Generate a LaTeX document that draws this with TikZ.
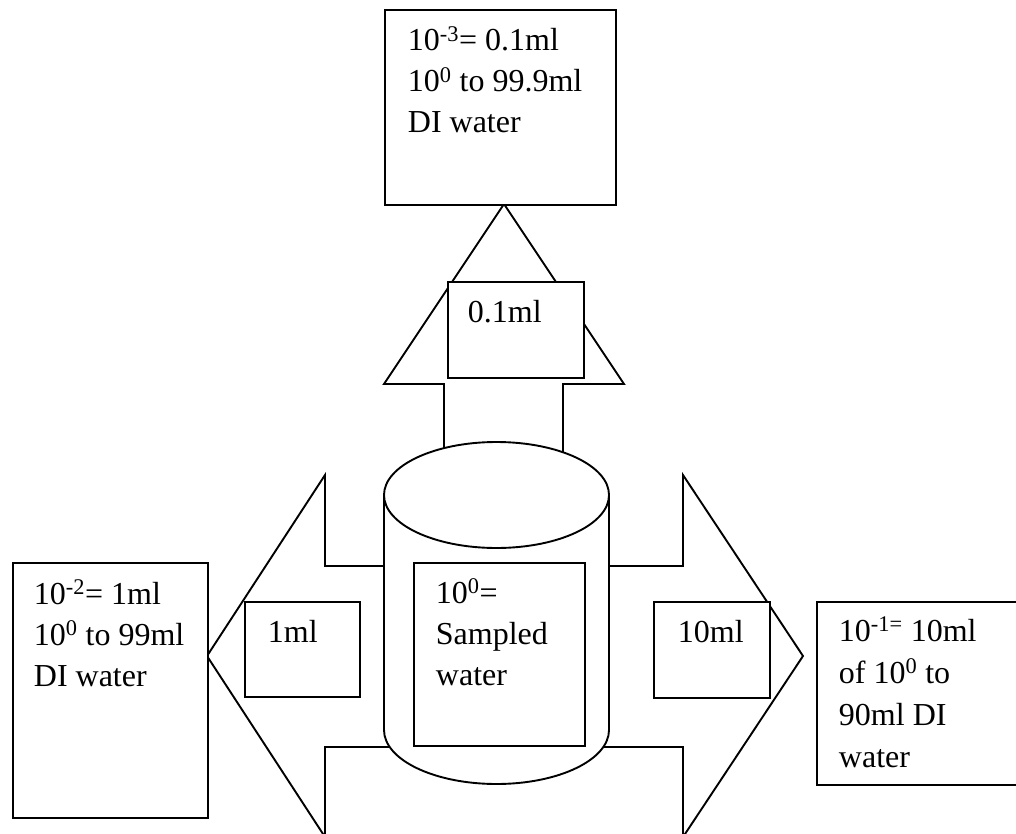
\documentclass[tikz,border=0pt]{standalone}
\usepackage{fontspec}
\setmainfont{Liberation Serif}
\begin{document}
\begin{tikzpicture}[x=1pt,y=-1pt,line width=1.9pt,line join=miter,
  box/.style={draw,fill=white,rectangle,inner sep=0pt,anchor=north west},
  txt/.style={anchor=base west,inner sep=0pt,font=\fontsize{32}{41}\selectfont},
  arrowshape/.style={draw,fill=white}]
\clip (0,0) rectangle (1016,834);
\fill[white] (0,0) rectangle (1016,834);
% big block arrows
\path[arrowshape] (444,520) -- (444,384) -- (384,384) -- (504,204) -- (624,384) -- (563,384) -- (563,520);
\path[arrowshape] (400,566) -- (325,566) -- (325,475) -- (207,656) -- (325,837) -- (325,747) -- (400,747);
\path[arrowshape] (600,566) -- (683,566) -- (683,475) -- (803,656) -- (683,837) -- (683,747) -- (600,747);
% cylinder
\path[fill=white] (384,495) -- (384,730) arc[start angle=180,end angle=0,x radius=112.5,y radius=54] -- (609,495) -- cycle;
\draw (384,495) -- (384,730) arc[start angle=180,end angle=0,x radius=112.5,y radius=54] -- (609,495);
\draw[fill=white] (496.5,495) ellipse[x radius=112.5,y radius=53];
% boxes
\node[box,minimum width=231,minimum height=195] (top) at (384,9) {};
\node[box,minimum width=195,minimum height=255] (left) at (12,562) {};
\node[box,minimum width=230,minimum height=183] (right) at (816,601) {};
\node[box,minimum width=115,minimum height=95] (onemlbox) at (244,601) {};
\node[box,minimum width=116,minimum height=96] (tenmlbox) at (653,601) {};
\node[box,minimum width=136,minimum height=96] (ptonebox) at (447,281) {};
\node[box,minimum width=171,minimum height=183] (cylbox) at (413,562) {};
% texts
\node[txt] (toptxt) at (407,51) {\parbox[t]{220pt}{10\textsuperscript{-3}= 0.1ml\\10\textsuperscript{0} to 99.9ml\\DI water}};
\node[txt] (lefttxt) at (33,604) {\parbox[t]{180pt}{10\textsuperscript{-2}= 1ml\\10\textsuperscript{0} to 99ml\\DI water}};
\node[txt] (onemltxt) at (267,642) {1ml};
\node[txt] (tenmltxt) at (677,642) {10ml};
\node[txt] (ptonetxt) at (467,322) {0.1ml};
\node[txt] (cyltxt) at (435,603) {\parbox[t]{160pt}{10\textsuperscript{0}=\\Sampled\\water}};
\node[txt] (righttxt) at (838,641) {\parbox[t]{180pt}{\baselineskip=42pt 10\textsuperscript{-1=} 10ml\\of 10\textsuperscript{0} to\\90ml DI\\water}};
\end{tikzpicture}
\end{document}
